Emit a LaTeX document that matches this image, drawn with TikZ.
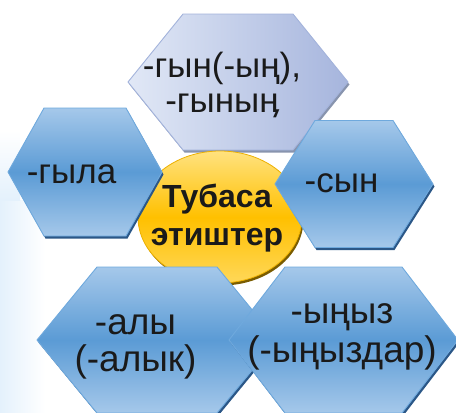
\documentclass[tikz,border=0pt]{standalone}
\usepackage{fontspec}
\setmainfont{Liberation Sans}
\definecolor{hexlight}{HTML}{A5C8EA}
\definecolor{hexmid}{HTML}{5B9BD5}
\definecolor{hexedge}{HTML}{6FA9DD}
\definecolor{hexshadow}{HTML}{2B5787}
\definecolor{lavlight}{HTML}{E1E8F6}
\definecolor{lavdark}{HTML}{A6B5DD}
\definecolor{lavedge}{HTML}{A3B3DB}
\definecolor{lavshadow}{HTML}{8894AE}
\definecolor{ylwlight}{HTML}{FFE27F}
\definecolor{ylwmid}{HTML}{FFC000}
\definecolor{ylwedge}{HTML}{EDB000}
\definecolor{ylwshadow}{HTML}{7A5C00}
\definecolor{glow}{HTML}{E4F1FC}
\definecolor{txt}{HTML}{1A1A1A}
\newcommand\hexagonpath[6]{%
  \path[#1] (#2-#4,#3) -- (#2-#5,#3-#6) -- (#2+#5,#3-#6) -- (#2+#4,#3)
    -- (#2+#5,#3+#6) -- (#2-#5,#3+#6) -- cycle;}
\newcommand\bluehex[5]{%
  \hexagonpath{fill=hexshadow}{#1+1.5}{#2+2.5}{#3}{#4}{#5}%
  \hexagonpath{top color=hexlight,bottom color=hexlight,middle color=hexmid,draw=hexedge,line width=0.9pt}{#1}{#2}{#3}{#4}{#5}}
\tikzset{
  lbl/.style={inner sep=0pt, text=txt, font=\fontsize{35}{35}\selectfont},
}
\begin{document}
\begin{tikzpicture}[x=1pt,y=-1pt]
\useasboundingbox (0,0) rectangle (456,413);
% faint glow at left edge
\shade[left color=glow, right color=white] (0,200) rectangle (45,413);
\shade[top color=white, bottom color=glow] (0,130) rectangle (20,200);
% top hexagon
\hexagonpath{fill=lavshadow}{239.5}{84.5}{110}{55}{68}
\hexagonpath{shading angle=135, left color=lavlight, right color=lavdark, draw=lavedge, line width=0.9pt}{238}{82}{110}{55}{68}
% central ellipse
\fill[ylwshadow] (221.5,219.5) ellipse [x radius=82, y radius=66];
\shade[top color=ylwlight, bottom color=ylwlight!70!ylwmid, middle color=ylwmid, draw=ylwedge, line width=0.8pt] (220,217) ellipse [x radius=82, y radius=66];
% side hexagons
\bluehex{85}{172}{77}{41}{64}
\bluehex{354}{184}{79}{39}{63.5}
% bottom hexagons
\bluehex{157}{340}{120}{60}{73}
\bluehex{343.5}{340}{114.5}{58.5}{73}
% labels
\node[lbl, anchor=base] (top) at (222,77) {\begin{tabular}[t]{@{}c@{}}-гын(-ың),\\-гыныӊ\end{tabular}};
\node[lbl, anchor=base] (left) at (71.5,183) {-гыла};
\node[lbl, anchor=base] (right) at (341.5,192) {-сын};
\node[lbl, anchor=base, font=\bfseries\fontsize{32}{38}\selectfont] (centre) at (217,207) {\begin{tabular}[t]{@{}c@{}}Тубаса\\этиштер\end{tabular}};
\node[lbl, anchor=base, font=\fontsize{37}{37}\selectfont] (botleft) at (135.5,334) {\begin{tabular}[t]{@{}c@{}}-алы\\(-алык)\end{tabular}};
\node[lbl, anchor=base, font=\fontsize{37}{39}\selectfont] (botright) at (342,323) {\begin{tabular}[t]{@{}c@{}}-ыңыз\\(-ыңыздар)\end{tabular}};
\end{tikzpicture}
\end{document}
